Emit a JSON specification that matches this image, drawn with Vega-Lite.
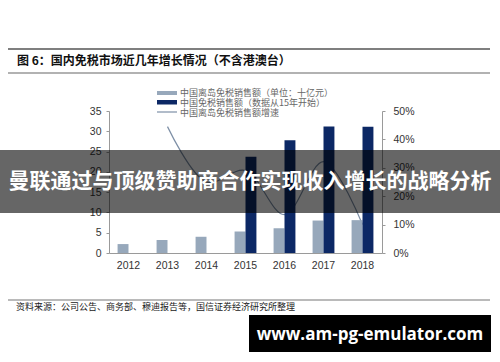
{
  "$schema": "https://vega.github.io/schema/vega-lite/v6.json",
  "width": 273,
  "height": 142,
  "autosize": {"type": "none"},
  "padding": {"left": 109, "top": 111, "right": 118, "bottom": 109},
  "background": "white",
  "config": {
    "view": {"stroke": null},
    "font": "Liberation Sans",
    "axis": {
      "grid": false,
      "domainColor": "#9a9a9a",
      "tickColor": "#9a9a9a",
      "labelColor": "#333333",
      "labelFont": "Liberation Sans",
      "labelFontSize": 10.5,
      "title": null
    }
  },
  "datasets": {
    "bars": [
      {"year": "2012", "series": "中国离岛免税销售额", "value": 2.2},
      {"year": "2013", "series": "中国离岛免税销售额", "value": 3.2},
      {"year": "2014", "series": "中国离岛免税销售额", "value": 4.0},
      {"year": "2015", "series": "中国离岛免税销售额", "value": 5.3},
      {"year": "2016", "series": "中国离岛免税销售额", "value": 6.1},
      {"year": "2017", "series": "中国离岛免税销售额", "value": 8.0},
      {"year": "2018", "series": "中国离岛免税销售额", "value": 8.1},
      {"year": "2015", "series": "中国免税销售额", "value": 23.7},
      {"year": "2016", "series": "中国免税销售额", "value": 27.8},
      {"year": "2017", "series": "中国免税销售额", "value": 31.2},
      {"year": "2018", "series": "中国免税销售额", "value": 31.1}
    ],
    "growth": [
      {"year": "2013", "rate": 0.445},
      {"year": "2014", "rate": 0.25},
      {"year": "2015", "rate": 0.29},
      {"year": "2016", "rate": 0.135},
      {"year": "2017", "rate": 0.322},
      {"year": "2018", "rate": 0.10}
    ]
  },
  "layer": [
    {
      "data": {"name": "growth"},
      "mark": {"type": "line", "interpolate": "catmull-rom", "color": "#7d8fa6", "strokeWidth": 1.2},
      "encoding": {
        "x": {
          "field": "year", "type": "ordinal",
          "scale": {"domain": ["2012", "2013", "2014", "2015", "2016", "2017", "2018"], "paddingInner": 0.44, "paddingOuter": 0.22},
          "axis": {"labelAngle": 0, "ticks": false, "labelPadding": 7}
        },
        "y": {
          "field": "rate", "type": "quantitative",
          "scale": {"domain": [0, 0.5], "nice": false},
          "axis": {"orient": "right", "format": ".0%", "values": [0, 0.1, 0.2, 0.3, 0.4, 0.5], "tickSize": 3, "labelPadding": 8}
        }
      }
    },
    {
      "data": {"name": "bars"},
      "mark": {"type": "bar"},
      "encoding": {
        "x": {
          "field": "year", "type": "ordinal",
          "scale": {"domain": ["2012", "2013", "2014", "2015", "2016", "2017", "2018"], "paddingInner": 0.44, "paddingOuter": 0.22}
        },
        "xOffset": {
          "field": "series",
          "scale": {"domain": ["中国离岛免税销售额", "中国免税销售额"], "paddingInner": 0, "paddingOuter": 0}
        },
        "y": {
          "field": "value", "type": "quantitative",
          "scale": {"domain": [0, 35], "nice": false},
          "axis": {"orient": "left", "values": [0, 5, 10, 15, 20, 25, 30, 35], "tickSize": 3, "labelPadding": 5}
        },
        "color": {
          "field": "series",
          "scale": {"domain": ["中国离岛免税销售额", "中国免税销售额"], "range": ["#97a8bb", "#0c2865"]},
          "legend": null
        }
      }
    },
    {
      "data": {"values": [{"label": "中国离岛免税销售额（单位：十亿元）"}]},
      "mark": {"type": "rect", "color": "#97a8bb"},
      "encoding": {"x": {"value": 48}, "x2": {"value": 68}, "y": {"value": -20}, "y2": {"value": -16}}
    },
    {
      "data": {"values": [{"label": "中国免税销售额（数据从15年开始）"}]},
      "mark": {"type": "rect", "color": "#0c2865"},
      "encoding": {"x": {"value": 48}, "x2": {"value": 68}, "y": {"value": -11}, "y2": {"value": -6.5}}
    },
    {
      "data": {"values": [{"label": "中国离岛免税销售额增速"}]},
      "mark": {"type": "rule", "color": "#7d8fa6", "strokeWidth": 1.2},
      "encoding": {"x": {"value": 48}, "x2": {"value": 68}, "y": {"value": 1}}
    },
    {
      "data": {"values": [{"label": "中国离岛免税销售额（单位：十亿元）"}]},
      "mark": {"type": "text", "align": "left", "baseline": "middle", "font": "Noto Sans CJK SC", "fontSize": 9, "color": "#666666"},
      "encoding": {"x": {"value": 71}, "y": {"value": -18.5}, "text": {"field": "label"}}
    },
    {
      "data": {"values": [{"label": "中国免税销售额（数据从15年开始）"}]},
      "mark": {"type": "text", "align": "left", "baseline": "middle", "font": "Noto Sans CJK SC", "fontSize": 9, "color": "#666666"},
      "encoding": {"x": {"value": 71}, "y": {"value": -8.5}, "text": {"field": "label"}}
    },
    {
      "data": {"values": [{"label": "中国离岛免税销售额增速"}]},
      "mark": {"type": "text", "align": "left", "baseline": "middle", "font": "Noto Sans CJK SC", "fontSize": 9, "color": "#666666"},
      "encoding": {"x": {"value": 71}, "y": {"value": 1.5}, "text": {"field": "label"}}
    },
    {
      "data": {"values": [{"label": "top"}]},
      "mark": {"type": "rule", "color": "#555555", "strokeWidth": 1.5},
      "encoding": {"x": {"value": -101}, "x2": {"value": 381}, "y": {"value": -62}}
    },
    {
      "data": {"values": [{"label": "bottom"}]},
      "mark": {"type": "rule", "color": "#666666", "strokeWidth": 1.2},
      "encoding": {"x": {"value": -101}, "x2": {"value": 381}, "y": {"value": -38}}
    },
    {
      "data": {"values": [{"label": "图 6：国内免税市场近几年增长情况（不含港澳台）"}]},
      "mark": {"type": "text", "align": "left", "baseline": "middle", "font": "Noto Sans CJK SC", "fontSize": 12, "fontWeight": "bold", "color": "#111111"},
      "encoding": {"x": {"value": -92}, "y": {"value": -50}, "text": {"field": "label"}}
    },
    {
      "data": {"values": [{"label": "source"}]},
      "mark": {"type": "rule", "color": "#777777", "strokeWidth": 1.2},
      "encoding": {"x": {"value": -101}, "x2": {"value": 381}, "y": {"value": 189}}
    },
    {
      "data": {"values": [{"label": "资料来源：公司公告、商务部、穆迪报告等，国信证券经济研究所整理"}]},
      "mark": {"type": "text", "align": "left", "baseline": "middle", "font": "Noto Sans CJK SC", "fontSize": 9, "color": "#222222"},
      "encoding": {"x": {"value": -93}, "y": {"value": 196}, "text": {"field": "label"}}
    },
    {
      "data": {"values": [{"label": "banner"}]},
      "mark": {"type": "rect", "color": "#000000", "opacity": 0.6},
      "encoding": {"x": {"value": -109}, "x2": {"value": 391}, "y": {"value": 39}, "y2": {"value": 102}}
    },
    {
      "data": {"values": [{"label": "曼联通过与顶级赞助商合作实现收入增长的战略分析"}]},
      "mark": {"type": "text", "align": "center", "baseline": "middle", "font": "Noto Sans CJK SC", "fontSize": 21, "fontWeight": "bold", "color": "#ffffff"},
      "encoding": {"x": {"value": 141}, "y": {"value": 71}, "text": {"field": "label"}}
    },
    {
      "data": {"values": [{"label": "watermark"}]},
      "mark": {"type": "rect", "color": "#000000", "opacity": 1},
      "encoding": {"x": {"value": 140}, "x2": {"value": 382}, "y": {"value": 204}, "y2": {"value": 241}}
    },
    {
      "data": {"values": [{"label": "www.am-pg-emulator.com"}]},
      "mark": {"type": "text", "align": "center", "baseline": "middle", "font": "Open Sans", "fontSize": 17, "fontWeight": "bold", "color": "#ffffff"},
      "encoding": {"x": {"value": 261}, "y": {"value": 224}, "text": {"field": "label"}}
    }
  ],
  "resolve": {"scale": {"y": "independent", "color": "independent"}, "axis": {"y": "independent"}}
}
